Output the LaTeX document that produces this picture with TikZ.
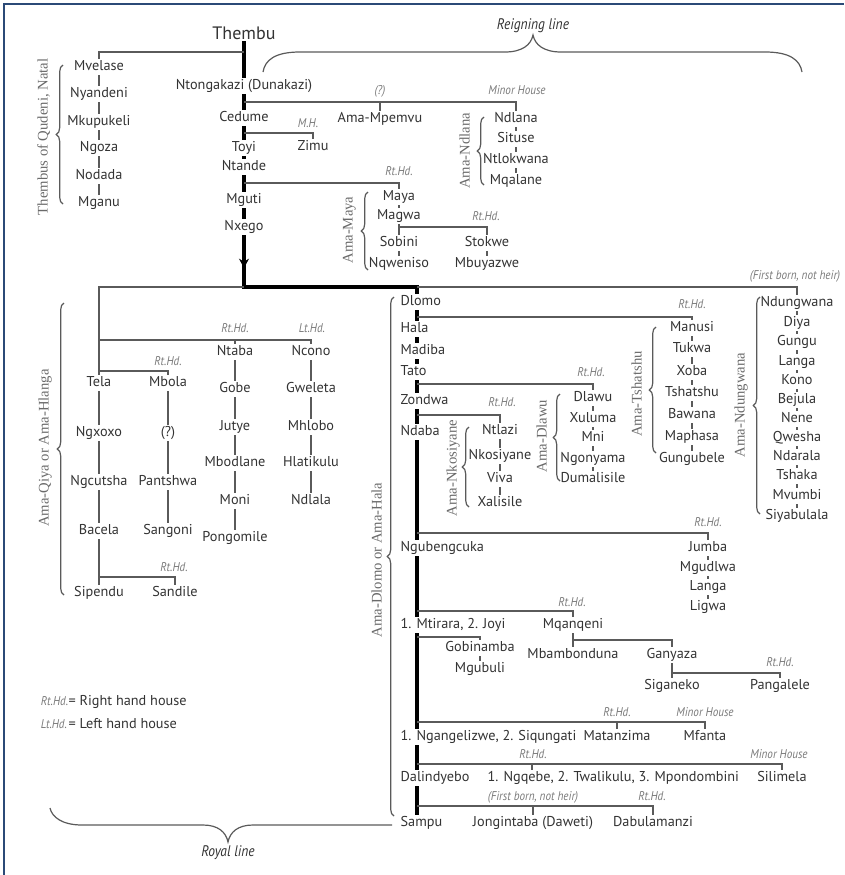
\documentclass[tikz,border=0pt]{standalone}
\usepackage{fontspec}
\setmainfont{PT Sans}
\newfontfamily\lblfont[FakeStretch=0.88]{PT Sans}
\newfontfamily\seriffam{Liberation Serif}
\usetikzlibrary{backgrounds,decorations.pathreplacing,arrows.meta}
\definecolor{txt}{HTML}{333333}
\definecolor{lblc}{HTML}{7A7A7A}
\definecolor{linec}{HTML}{5A5A5A}
\definecolor{sidec}{HTML}{6A6A6A}
\definecolor{framec}{HTML}{2B4A77}
\begin{document}
\begin{tikzpicture}[x=0.75pt,y=-0.75pt,
  nm/.style={font=\fontsize{10.7}{12}\selectfont, text=txt, fill=white, inner sep=1pt, text height=7.8pt, text depth=2.2pt},
  nmw/.style={nm, anchor=west},
  big/.style={font=\fontsize{13.5}{15}\selectfont, text=txt, fill=white, inner sep=1pt},
  lbl/.style={font=\lblfont\itshape\fontsize{9.5}{11}\selectfont, text=lblc, inner sep=0.5pt, text height=7pt, text depth=2pt},
  captxt/.style={font=\lblfont\itshape\fontsize{11.5}{13}\selectfont, text=txt},
  sidelbl/.style={font=\seriffam\fontsize{11}{12}\selectfont, text=sidec, rotate=90, inner sep=0pt, text height=8pt, text depth=2.5pt},
  conn/.style={draw=linec, line width=0.9pt},
  spine/.style={draw=black, line width=2.4pt},
  bracex/.style={draw=linec, line width=0.9pt, decorate, decoration={brace, amplitude=5pt}},
]
\useasboundingbox (0,0) rectangle (844,875);
\draw[framec, line width=1.2pt] (4,875) -- (4,4) -- (844,4);

% ---------- top section ----------
\node[big] (thembu) at (244,33) {Thembu};
\node[nm] (ntongakazi) at (244,86) {Ntongakazi (Dunakazi)};
\node[nm] (cedume) at (244,118) {Cedume};
\node[nm] (toyi) at (244,148) {Toyi};
\node[nm] (ntande) at (244,167) {Ntande};
\node[nm] (mguti) at (244,200) {Mguti};
\node[nm] (nxego) at (244,227) {Nxego};

\node[nm] (mvelase) at (99,67) {Mvelase};
\node[nm] (nyandeni) at (99,94) {Nyandeni};
\node[nm] (mkupukeli) at (99,122) {Mkupukeli};
\node[nm] (ngoza) at (99,148) {Ngoza};
\node[nm] (nodada) at (99,176) {Nodada};
\node[nm] (mganu) at (99,203) {Mganu};
\node[sidelbl] (qudeni) at (44,137) {Thembus of Qudeni, Natal};

\node[lbl] (l1) at (380,91) {(?)};
\node[nm] (mpemvu) at (380,119) {Ama-Mpemvu};
\node[lbl] (l2) at (517,91) {Minor House};
\node[nm] (ndlana) at (516,119) {Ndlana};
\node[nm] (situse) at (516,139) {Situse};
\node[nm] (ntlokwana) at (516,160) {Ntlokwana};
\node[nm] (mqalane) at (516,181) {Mqalane};
\node[sidelbl] (amandlana) at (466,151) {Ama-Ndlana};

\node[lbl] (l3) at (308,124) {M.H.};
\node[nm] (zimu) at (313,147) {Zimu};

\node[lbl] (l4) at (399,172) {Rt.Hd.};
\node[nm] (maya) at (399,197) {Maya};
\node[nm] (magwa) at (399,216) {Magwa};
\node[nm] (sobini) at (399,243) {Sobini};
\node[nm] (nqweniso) at (399,264) {Nqweniso};
\node[lbl] (l5) at (486,217) {Rt.Hd.};
\node[nm] (stokwe) at (487,243) {Stokwe};
\node[nm] (mbuyazwe) at (487,264) {Mbuyazwe};
\node[sidelbl] (amamaya) at (349,230) {Ama-Maya};

\node[captxt] (reign) at (533,26) {Reigning line};

% ---------- left subtree ----------
\node[nm] (tela) at (99,383) {Tela};
\node[nm] (ngxoxo) at (99,433) {Ngxoxo};
\node[nm] (ngcutsha) at (99,482) {Ngcutsha};
\node[nm] (bacela) at (99,531) {Bacela};
\node[nm] (sipendu) at (99,593) {Sipendu};
\node[lbl] (l6) at (168,362) {Rt.Hd.};
\node[nm] (mbola) at (168,383) {Mbola};
\node[nm] (qmark) at (168,433) {(?)};
\node[nm] (pantshwa) at (168,482) {Pantshwa};
\node[nm] (sangoni) at (168,531) {Sangoni};
\node[lbl] (l7) at (174,568) {Rt.Hd.};
\node[nm] (sandile) at (175,593) {Sandile};
\node[lbl] (l8) at (235,329) {Rt.Hd.};
\node[nm] (ntaba) at (235,352) {Ntaba};
\node[nm] (gobe) at (235,389) {Gobe};
\node[nm] (jutye) at (235,427) {Jutye};
\node[nm] (mbodlane) at (235,463) {Mbodlane};
\node[nm] (moni) at (235,501) {Moni};
\node[nm] (pongomile) at (235,538) {Pongomile};
\node[lbl] (l9) at (312,329) {Lt.Hd.};
\node[nm] (ncono) at (311,352) {Ncono};
\node[nm] (gweleta) at (311,389) {Gweleta};
\node[nm] (mhlobo) at (311,427) {Mhlobo};
\node[nm] (hlatikulu) at (311,463) {Hlatikulu};
\node[nm] (ndlala) at (311,501) {Ndlala};
\node[sidelbl] (amaqiya) at (45,448) {Ama-Qiya or Ama-Hlanga};

% ---------- royal line column ----------
\coordinate (jn) at (417,287);
\node[nmw] (dlomo) at (399,302) {Dlomo};
\node[nmw] (hala) at (399,329) {Hala};
\node[nmw] (madiba) at (399,351) {Madiba};
\node[nmw] (tato) at (399,372) {Tato};
\node[nmw] (zondwa) at (399,401) {Zondwa};
\node[nmw] (ndaba) at (399,432) {Ndaba};
\node[nmw] (ngubengcuka) at (399,548) {Ngubengcuka};
\node[nmw] (mtirara) at (399,625) {1. Mtirara, 2. Joyi};
\node[nmw] (ngangelizwe) at (399,737) {1. Ngangelizwe, 2. Siqungati};
\node[nmw] (dalindyebo) at (399,778) {Dalindyebo};
\node[nmw] (sampu) at (399,823) {Sampu};
\node[sidelbl] (amadlomo) at (378,560) {Ama-Dlomo or Ama-Hala};

\node[lbl] (l10) at (502,403) {Rt.Hd.};
\node[nm] (ntlazi) at (500,431) {Ntlazi};
\node[nm] (nkosiyane) at (500,456) {Nkosiyane};
\node[nm] (viva) at (500,479) {Viva};
\node[nm] (xalisile) at (500,503) {Xalisile};
\node[sidelbl] (amankos) at (453,468) {Ama-Nkosiyane};

\node[lbl] (l11) at (591,373) {Rt.Hd.};
\node[nm] (dlawu) at (593,398) {Dlawu};
\node[nm] (xuluma) at (593,419) {Xuluma};
\node[nm] (mni) at (593,438) {Mni};
\node[nm] (ngonyama) at (593,459) {Ngonyama};
\node[nm] (dumalisile) at (593,479) {Dumalisile};
\node[sidelbl] (amadlawu) at (543,436) {Ama-Dlawu};

\node[lbl] (l12) at (692,305) {Rt.Hd.};
\node[nm] (manusi) at (692,328) {Manusi};
\node[nm] (tukwa) at (692,349) {Tukwa};
\node[nm] (xoba) at (692,372) {Xoba};
\node[nm] (tshatshu) at (692,393) {Tshatshu};
\node[nm] (bawana) at (692,415) {Bawana};
\node[nm] (maphasa) at (692,437) {Maphasa};
\node[nm] (gungubele) at (692,459) {Gungubele};
\node[sidelbl] (amatsh) at (638,394) {Ama-Tshatshu};

\node[lbl] (l13) at (795,276) {(First born, not heir)};
\node[nm] (ndungwana) at (797,303) {Ndungwana};
\node[nm] (diya) at (797,323) {Diya};
\node[nm] (gungu) at (797,342) {Gungu};
\node[nm] (langa) at (797,362) {Langa};
\node[nm] (kono) at (797,381) {Kono};
\node[nm] (bejula) at (797,400) {Bejula};
\node[nm] (nene) at (797,419) {Nene};
\node[nm] (qwesha) at (797,438) {Qwesha};
\node[nm] (ndarala) at (797,457) {Ndarala};
\node[nm] (tshaka) at (797,476) {Tshaka};
\node[nm] (mvumbi) at (797,496) {Mvumbi};
\node[nm] (siyabulala) at (797,516) {Siyabulala};
\node[sidelbl] (amandung) at (741,405) {Ama-Ndungwana};

\node[lbl] (l14) at (708,523) {Rt.Hd.};
\node[nm] (jumba) at (708,548) {Jumba};
\node[nm] (mgudlwa) at (708,568) {Mgudlwa};
\node[nm] (langab) at (708,587) {Langa};
\node[nm] (ligwa) at (708,607) {Ligwa};

\node[lbl] (l15) at (572,603) {Rt.Hd.};
\node[nm] (mqanqeni) at (573,625) {Mqanqeni};
\node[nm] (mbambonduna) at (573,655) {Mbambonduna};
\node[nm] (ganyaza) at (672,655) {Ganyaza};
\node[nm] (siganeko) at (672,686) {Siganeko};
\node[lbl] (l16) at (780,663) {Rt.Hd.};
\node[nm] (pangalele) at (780,686) {Pangalele};
\node[nm] (gobinamba) at (480,648) {Gobinamba};
\node[nm] (mgubuli) at (480,669) {Mgubuli};

\node[lbl] (l17) at (617,713) {Rt.Hd.};
\node[nm] (matanzima) at (617,737) {Matanzima};
\node[lbl] (l18) at (705,713) {Minor House};
\node[nm] (mfanta) at (705,737) {Mfanta};

\node[lbl] (l19) at (533,755) {Rt.Hd.};
\node[nmw] (ngqebe) at (486,778) {1. Ngqebe, 2. Twalikulu, 3. Mpondombini};
\node[lbl] (l20) at (779,755) {Minor House};
\node[nm] (silimela) at (782,778) {Silimela};

\node[lbl] (l21) at (533,797) {(First born, not heir)};
\node[nm] (jongintaba) at (533,823) {Jongintaba (Daweti)};
\node[lbl] (l22) at (652,797) {Rt.Hd.};
\node[nm] (dabulamanzi) at (653,823) {Dabulamanzi};

\node[captxt] (royal) at (228,853) {Royal line};

% legend
\node[lbl, anchor=west] (k1) at (40,702) {Rt.Hd.};
\node[nmw, fill=none] (k1t) at (67,702) {= Right hand house};
\node[lbl, anchor=west] (k2) at (40,725) {Lt.Hd.};
\node[nmw, fill=none] (k2t) at (67,725) {= Left hand house};

% arrow on spine
\draw[spine, -{Stealth[length=7pt,width=7.5pt]}] (nxego.south) -- (244,268);

% ---------- braces ----------
\draw[bracex] (63,204) -- (63,65);
\draw[bracex] (64,595) -- (64,303);
\draw[bracex] (484,185) -- (484,117);
\draw[bracex] (368,270) -- (368,192);
\draw[bracex] (469,507) -- (469,427);
\draw[bracex] (560,481) -- (560,394);
\draw[bracex] (656,453) -- (656,327);
\draw[bracex] (760,514) -- (760,297);
\draw[bracex] (394,816) -- (394,297);

\draw[conn] (263,72) .. controls (265,60) and (275,52) .. (300,52) -- (505,52)
  .. controls (522,52) and (531,45) .. (533,35) .. controls (535,45) and (544,52) .. (561,52)
  -- (765,52) .. controls (790,52) and (800,60) .. (802,72);
\draw[conn] (50,808) .. controls (52,817) and (62,825) .. (82,825) -- (203,825)
  .. controls (218,825) and (226,832) .. (228,842) .. controls (230,832) and (238,825) .. (253,825)
  -- (392,825);

% ---------- connectors ----------
\begin{scope}[on background layer]
\draw[spine] (thembu) -- (nxego);
\draw[spine] (nxego.south) -- (244,287) -- (jn) -- (jn |- sampu);

\draw[conn] (244,52) -| (mvelase);
\draw[conn] (mvelase) -- (mganu);
\draw[conn] (244,102) -| (ndlana);
\draw[conn] (380,102) -- (mpemvu);
\draw[conn] (ndlana) -- (mqalane);
\draw[conn] (244,133) -| (zimu);
\draw[conn] (244,183) -| (maya);
\draw[conn] (maya) -- (nqweniso);
\draw[conn] (399,227) -| (stokwe);
\draw[conn] (stokwe) -- (mbuyazwe);

\draw[conn] (244,287) -- (99,287) -- (sipendu);
\draw[conn] (99,340) -| (ncono);
\draw[conn] (235,340) -- (ntaba);
\draw[conn] (99,371) -| (mbola);
\draw[conn] (99,577) -| (sandile);
\draw[conn] (mbola) -- (sangoni);
\draw[conn] (ntaba) -- (pongomile);
\draw[conn] (ncono) -- (ndlala);

\draw[conn] (jn) -| (ndungwana);
\draw[conn] (ndungwana) -- (siyabulala);
\draw[conn] (417,317) -| (manusi);
\draw[conn] (manusi) -- (gungubele);
\draw[conn] (417,384) -| (dlawu);
\draw[conn] (dlawu) -- (dumalisile);
\draw[conn] (417,415) -| (ntlazi);
\draw[conn] (ntlazi) -- (xalisile);
\draw[conn] (417,533) -| (jumba);
\draw[conn] (jumba) -- (ligwa);
\draw[conn] (417,611) -| (mqanqeni);
\draw[conn] (mqanqeni) -- (mbambonduna);
\draw[conn] (573,640) -| (ganyaza);
\draw[conn] (ganyaza) -- (siganeko);
\draw[conn] (672,673) -| (pangalele);
\draw[conn] (417,637) -| (gobinamba);
\draw[conn] (gobinamba) -- (mgubuli);
\draw[conn] (417,722) -| (mfanta);
\draw[conn] (617,722) -- (matanzima);
\draw[conn] (417,764) -| (silimela);
\draw[conn] (532,764) -- (532,778);
\draw[conn] (417,806) -| (dabulamanzi);
\draw[conn] (533,806) -- (jongintaba);
\end{scope}
\end{tikzpicture}
\end{document}
